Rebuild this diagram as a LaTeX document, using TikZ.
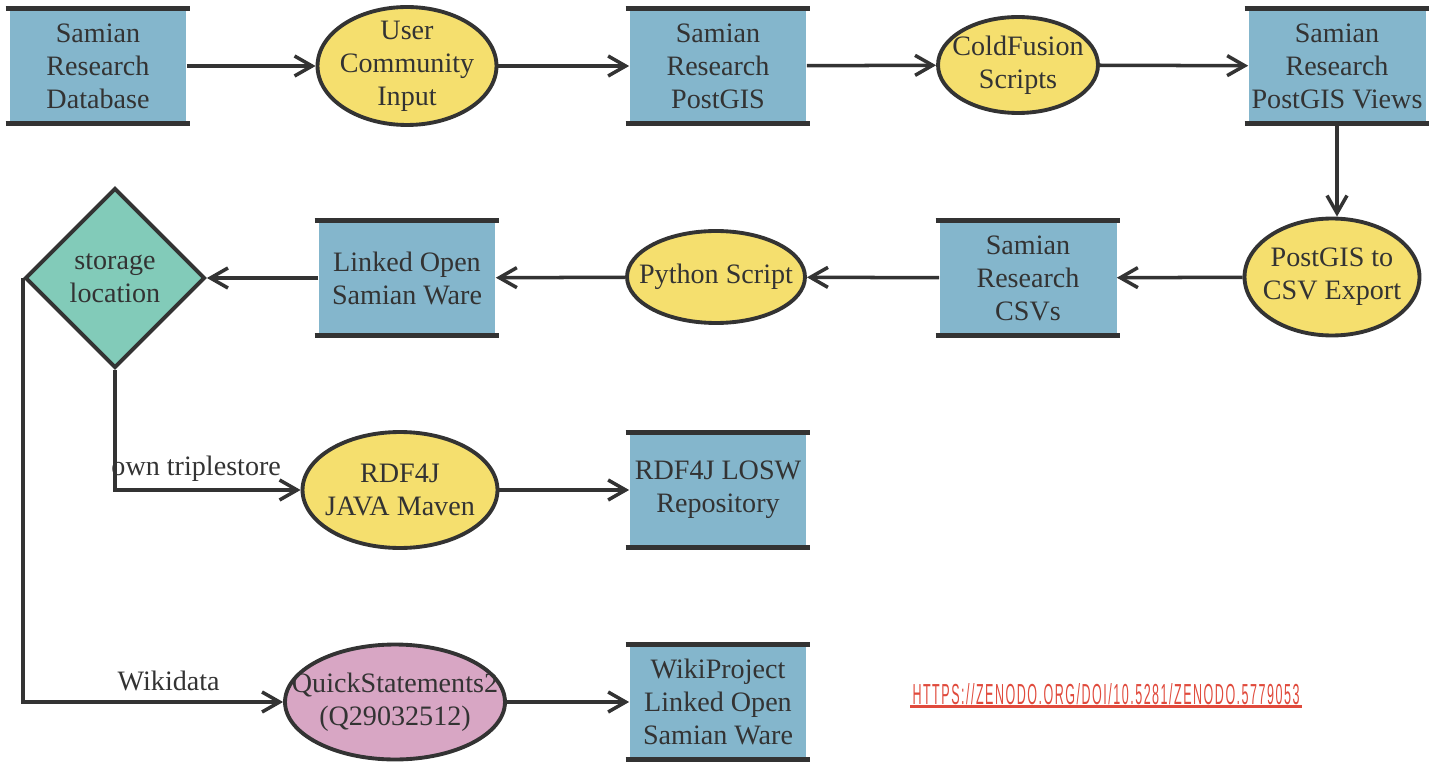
\documentclass[tikz,border=0pt]{standalone}
\usepackage{fontspec}
\setmainfont{Liberation Serif}
\setsansfont{Liberation Sans}
\usetikzlibrary{shapes.geometric,arrows.meta}
\definecolor{boxblue}{HTML}{84B6CC}
\definecolor{procyellow}{HTML}{F5DF6E}
\definecolor{wikipink}{HTML}{D8A6C4}
\definecolor{decteal}{HTML}{82CBB9}
\definecolor{linegray}{HTML}{333333}
\definecolor{linkred}{HTML}{E04A3C}
\tikzset{
  store/.style={fill=boxblue, minimum width=3.54cm, minimum height=2.28cm, inner sep=0pt, align=center},
  proc/.style={ellipse, draw=linegray, line width=2.2pt, fill=procyellow, inner xsep=-1cm, inner ysep=-0.6cm, align=center},
  decide/.style={diamond, draw=linegray, line width=2.2pt, fill=decteal, minimum width=3.6cm, minimum height=3.6cm, inner sep=0pt, align=center},
  flow/.style={draw=linegray, line width=2pt, -{Straight Barb[length=3.5mm,width=4mm]}},
  bar/.style={draw=linegray, line width=3.2pt}
}
\begin{document}
\begin{tikzpicture}[x=0.02cm,y=-0.02cm,font=\fontsize{16}{18.8}\selectfont,text=linegray]

	\useasboundingbox (0,0) rectangle (1429,763);

	% first row
	\node[store] (db) at (98,66) {Samian\\Research\\Database};
	\node[proc, minimum width=3.58cm, minimum height=2.36cm] (user) at (407,66) {User\\Community\\Input};
	\node[store] (pg) at (718,66) {Samian\\Research\\PostGIS};
	\node[proc, minimum width=3.2cm, minimum height=1.92cm] (cf) at (1018,65) {ColdFusion\\Scripts};
	\node[store] (views) at (1337,66) {Samian\\Research\\PostGIS Views};

	% second row
	\node[proc, minimum width=3.5cm, minimum height=2.34cm] (export) at (1332,277) {PostGIS to\\CSV Export};
	\node[store] (csv) at (1028,278) {Samian\\Research\\CSVs};
	\node[proc, minimum width=3.56cm, minimum height=1.84cm] (py) at (716,277) {Python Script};
	\node[store] (losw) at (407,278) {Linked Open\\Samian Ware};
	\node[decide] (where) at (115,278) {storage\\location};

	% targets
	\node[proc, minimum width=3.9cm, minimum height=2.32cm] (rdf) at (400,490) {RDF4J\\JAVA Maven};
	\node[store] (repo) at (718,490) {RDF4J LOSW\\Repository};
	\node[proc, fill=wikipink, minimum width=4.4cm, minimum height=2.3cm] (qs) at (395,702) {QuickStatements2\\(Q29032512)};
	\node[store] (wiki) at (718,702) {WikiProject\\Linked Open\\Samian Ware};

	\foreach \n in {db,pg,views,csv,losw,repo,wiki}
		\draw[bar] ([xshift=-2pt]\n.north west)--([xshift=2pt]\n.north east) ([xshift=-2pt]\n.south west)--([xshift=2pt]\n.south east);

	\draw[flow] (db) -- (user);
	\draw[flow] (user) -- (pg);
	\draw[flow] (pg) -- (cf);
	\draw[flow] (cf) -- (views);
	\draw[flow] (views.south) -- (views.south |- export.north);
	\draw[flow] (export) -- (csv);
	\draw[flow] (csv) -- (py);
	\draw[flow] (py) -- (losw);
	\draw[flow] (losw) -- (where);
	\draw[flow] (where.south) |- (rdf.west) node[pos=0.5, above right, xshift=-5pt, yshift=2pt, inner sep=2pt] {own triplestore};
	\draw[flow] (where.west) |- (qs.west) node[pos=0.78, above, yshift=2pt] {Wikidata};
	\draw[flow] (rdf) -- (repo);
	\draw[flow] (qs) -- (wiki);

	\node[text=linkred, font=\sffamily\addfontfeatures{LetterSpace=12}, inner sep=1pt] (url) at (1106,694) {\resizebox{7.74cm}{0.42cm}{HTTPS://ZENODO.ORG/DOI/10.5281/ZENODO.5779053}};
	\draw[linkred, line width=1.6pt] (url.south west) -- (url.south east);

\end{tikzpicture}
\end{document}
